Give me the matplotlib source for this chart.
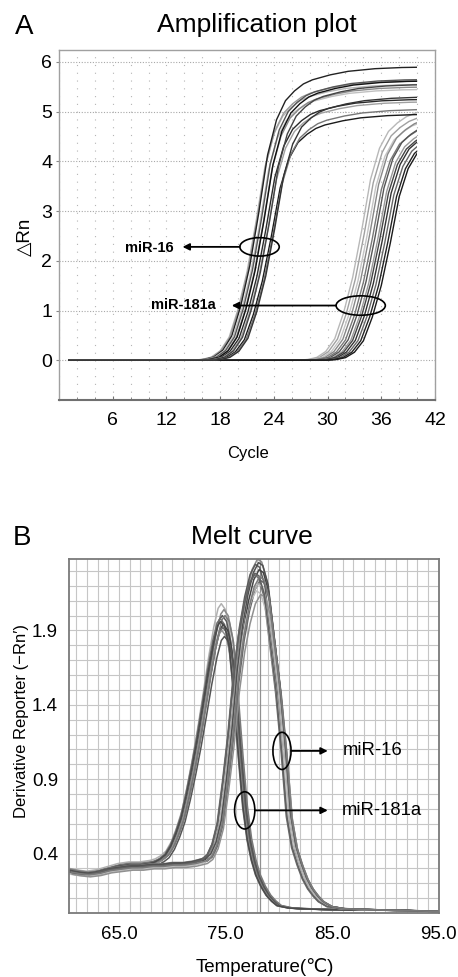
import numpy as np
import matplotlib
matplotlib.use('Agg')
import matplotlib.pyplot as plt
from matplotlib.patches import Ellipse, Rectangle
from matplotlib.ticker import MultipleLocator

plt.rcParams['font.family'] = ['Liberation Sans', 'DejaVu Sans', 'Noto Sans CJK SC']

# ---------------- Amplification plot data ----------------
# normalized amplification shape (relative cycle vs fraction of plateau)
amp_rel = [-40, -7, -6, -5, -4, -3, -2, -1, 0, 1, 2, 3, 4, 5, 6, 8, 10, 13, 16, 20, 40]
amp_shape = [0, 0, 0.003, 0.011, 0.034, 0.083, 0.185, 0.32, 0.5, 0.70, 0.82, 0.885,
             0.918, 0.942, 0.956, 0.973, 0.985, 0.994, 0.998, 1.0, 1.0]

mir16_mid = [22.0, 22.1, 22.3, 22.4, 22.6, 22.8, 22.9, 23.1, 23.3, 23.5, 23.7, 23.9, 24.1]
mir16_plateau = [5.55, 5.62, 5.9, 5.45, 5.65, 5.5, 5.62, 5.25, 5.2, 5.55, 4.95, 5.05, 5.3]
mir16_color = ['#b5b5b5', '#9a9a9a', '#222222', '#c0c0c0', '#555555', '#8a8a8a',
               '#111111', '#2a2a2a', '#a0a0a0', '#444444', '#1a1a1a', '#777777', '#333333']

mir181a_mid = [33.8, 34.1, 34.4, 34.7, 35.0, 35.3, 35.6, 35.8, 36.1, 36.4, 36.7, 37.0]
mir181a_plateau = [5.2, 5.1, 5.0, 5.05, 4.9, 4.95, 4.85, 4.8, 4.8, 4.75, 4.7, 4.7]
mir181a_color = ['#b8b8b8', '#a0a0a0', '#c4c4c4', '#888888', '#777777', '#555555',
                 '#999999', '#444444', '#333333', '#666666', '#222222', '#1a1a1a']

cycle_first, cycle_last = 1, 40
amp_xticks = [6, 12, 18, 24, 30, 36, 42]
amp_yticks = [0, 1, 2, 3, 4, 5, 6]

# ---------------- Melt curve data ----------------
melt_temp_181a = [60.3, 61, 62, 63, 64, 65, 66, 67, 68, 68.5, 69, 69.5, 70, 70.5, 71, 71.5,
                  72, 72.5, 73, 73.5, 74, 74.4, 74.7, 75.1, 75.5, 75.8, 76.1, 76.4, 76.8,
                  77.2, 77.6, 78, 78.5, 79, 79.5, 80, 81, 82, 84, 87, 90, 93, 95]
melt_val_181a = [0.29, 0.28, 0.27, 0.28, 0.30, 0.32, 0.33, 0.33, 0.34, 0.35, 0.37, 0.40,
                 0.46, 0.55, 0.66, 0.82, 1.0, 1.2, 1.42, 1.65, 1.85, 1.97, 2.0, 1.96,
                 1.82, 1.60, 1.32, 1.05, 0.72, 0.50, 0.36, 0.26, 0.18, 0.12, 0.08, 0.05,
                 0.035, 0.03, 0.025, 0.02, 0.02, 0.015, 0.01]

melt_temp_16 = [60.3, 61, 62, 63, 64, 65, 66, 67, 68, 69, 70, 71, 72, 72.5, 73, 73.5, 74,
                74.5, 75, 75.5, 76, 76.5, 77, 77.5, 78, 78.4, 78.9, 79.4, 80, 80.5, 81,
                81.5, 82, 82.5, 83, 83.5, 84, 84.8, 86, 88, 90, 93, 95]
melt_val_16 = [0.29, 0.28, 0.27, 0.28, 0.30, 0.31, 0.32, 0.32, 0.33, 0.33, 0.34, 0.34,
               0.35, 0.36, 0.37, 0.40, 0.48, 0.63, 0.92, 1.25, 1.65, 1.95, 2.16, 2.31,
               2.38, 2.36, 2.23, 1.92, 1.55, 1.15, 0.68, 0.46, 0.34, 0.24, 0.17, 0.12,
               0.08, 0.045, 0.03, 0.025, 0.02, 0.015, 0.01]

melt181a_scale = [1.04, 1.02, 1.0, 0.99, 0.97, 0.96, 0.95, 0.93, 1.0, 0.98]
melt181a_shift = [-0.1, 0.15, 0.0, -0.2, 0.1, 0.05, -0.05, 0.2, 0.25, -0.15]
melt181a_color = ['#b0b0b0', '#8a8a8a', '#5a5a5a', '#707070', '#444444', '#666666',
                  '#909090', '#555555', '#7a7a7a', '#4a4a4a']

melt16_scale = [1.0, 0.985, 0.97, 0.955, 0.94, 0.93, 0.91, 0.9, 0.99, 0.96, 0.95]
melt16_shift = [0.0, -0.2, 0.15, -0.3, 0.25, 0.05, -0.1, 0.3, 0.1, -0.25, 0.2]
melt16_color = ['#8a8a8a', '#5a5a5a', '#444444', '#707070', '#666666', '#b0b0b0',
                '#c0c0c0', '#909090', '#505050', '#606060', '#7a7a7a']

melt_xticks = [65, 75, 85, 95]
melt_yticks = [0.4, 0.9, 1.4, 1.9]

# ---------------- Figure ----------------
fig = plt.figure(figsize=(4.58, 9.77), dpi=100)

# ===== Panel A =====
axA = fig.add_axes([0.1288, 0.5906, 0.8210, 0.3582])
axA.set_xlim(0, 42)
axA.set_ylim(-0.8, 6.24)
axA.set_xticks(amp_xticks)
axA.xaxis.set_minor_locator(MultipleLocator(2))
axA.set_yticks(amp_yticks)
axA.grid(axis='x', which='both', linestyle=(0, (1, 6)), color='#b5b5b5', lw=0.8)
axA.grid(axis='y', which='major', linestyle=(0, (1, 1.5)), color='#a8a8a8', lw=0.8)
axA.set_axisbelow(True)

clip = Rectangle((cycle_first, -5), cycle_last - cycle_first, 20, transform=axA.transData)
rel = np.array(amp_rel)
shape = np.array(amp_shape)
for mid, pl, col in zip(mir181a_mid, mir181a_plateau, mir181a_color):
    ln, = axA.plot(rel + mid, shape * pl, color=col, lw=1.0)
    ln.set_clip_path(clip)
for mid, pl, col in zip(mir16_mid, mir16_plateau, mir16_color):
    ln, = axA.plot(rel + mid, shape * pl, color=col, lw=1.0)
    ln.set_clip_path(clip)

for sp in ['top', 'right', 'left']:
    axA.spines[sp].set_color('#a0a0a0')
    axA.spines[sp].set_linewidth(1.0)
axA.spines['bottom'].set_color('#707070')
axA.spines['bottom'].set_linewidth(1.5)
axA.tick_params(axis='y', length=2, color='#888888', labelsize=14, pad=3)
axA.tick_params(axis='x', which='major', length=3, direction='in', color='#707070',
                labelsize=14, pad=9)
axA.tick_params(axis='x', which='minor', length=2, direction='in', color='#707070')

# annotations A
axA.add_patch(Ellipse((22.4, 2.28), 4.4, 0.37, fill=False, ec='black', lw=1.2, zorder=5))
axA.annotate('', xy=(13.8, 2.28), xytext=(20.2, 2.28),
             arrowprops=dict(arrowstyle='-|>', color='black', lw=1.3, mutation_scale=10,
                             shrinkA=0, shrinkB=0), zorder=5)
axA.text(12.8, 2.26, 'miR-16', ha='right', va='center', fontsize=10.5, fontweight='bold')

axA.add_patch(Ellipse((33.7, 1.1), 5.5, 0.39, fill=False, ec='black', lw=1.2, zorder=5))
axA.annotate('', xy=(19.3, 1.1), xytext=(30.95, 1.1),
             arrowprops=dict(arrowstyle='-|>', color='black', lw=1.3, mutation_scale=10,
                             shrinkA=0, shrinkB=0), zorder=5)
axA.text(17.5, 1.12, 'miR-181a', ha='right', va='center', fontsize=10.5, fontweight='bold')

fig.text(15 / 458, 1 - 27 / 977, 'A', ha='left', va='center', fontsize=20)
fig.text(257 / 458, 1 - 25 / 977, 'Amplification plot', ha='center', va='center', fontsize=19)
fig.text(248 / 458, 1 - 453 / 977, 'Cycle', ha='center', va='center', fontsize=12)
fig.text(25 / 458, 1 - 237 / 977, '△Rn', ha='center', va='center', fontsize=13.5, rotation=90)

# ===== Panel B =====
axB = fig.add_axes([0.1507, 0.0655, 0.8079, 0.3623])
axB.set_xlim(60.3, 95.05)
axB.set_ylim(0, 2.38)
axB.set_xticks(melt_xticks)
axB.set_xticklabels([f'{v:.1f}' for v in melt_xticks])
axB.set_yticks(melt_yticks)
axB.set_yticklabels([f'{v:.1f}' for v in melt_yticks])
axB.xaxis.set_minor_locator(MultipleLocator(1))
axB.yaxis.set_minor_locator(MultipleLocator(0.1))
axB.grid(which='both', color='#c6c6c6', lw=0.8)
axB.set_axisbelow(True)
axB.axvline(78.2, color='#909090', lw=0.9, zorder=1)

t181 = np.array(melt_temp_181a)
v181 = np.array(melt_val_181a)
t16 = np.array(melt_temp_16)
v16 = np.array(melt_val_16)
for s, sh, col in zip(melt181a_scale, melt181a_shift, melt181a_color):
    axB.plot(t181 + sh, v181 * s, color=col, lw=1.1)
for s, sh, col in zip(melt16_scale, melt16_shift, melt16_color):
    axB.plot(t16 + sh, v16 * s, color=col, lw=1.1)

for sp in axB.spines.values():
    sp.set_color('#7a7a7a')
    sp.set_linewidth(1.3)
axB.tick_params(which='both', length=0, labelsize=13.5)
axB.tick_params(axis='x', pad=9)
axB.tick_params(axis='y', pad=8)

axB.add_patch(Ellipse((80.3, 1.09), 1.7, 0.25, fill=False, ec='black', lw=1.2, zorder=5))
axB.annotate('', xy=(84.6, 1.09), xytext=(81.15, 1.09),
             arrowprops=dict(arrowstyle='-|>', color='black', lw=1.3, mutation_scale=10,
                             shrinkA=0, shrinkB=0), zorder=5)
axB.text(86.0, 1.09, 'miR-16', ha='left', va='center', fontsize=13.3)

axB.add_patch(Ellipse((76.8, 0.69), 1.9, 0.25, fill=False, ec='black', lw=1.2, zorder=5))
axB.annotate('', xy=(84.6, 0.69), xytext=(77.75, 0.69),
             arrowprops=dict(arrowstyle='-|>', color='black', lw=1.3, mutation_scale=10,
                             shrinkA=0, shrinkB=0), zorder=5)
axB.text(85.9, 0.69, 'miR-181a', ha='left', va='center', fontsize=13.3)

fig.text(13 / 458, 1 - 538 / 977, 'B', ha='left', va='center', fontsize=20)
fig.text(252 / 458, 1 - 537 / 977, 'Melt curve', ha='center', va='center', fontsize=19)
fig.text(265 / 458, 1 - 967 / 977, 'Temperature(℃)', ha='center', va='center', fontsize=13.5)
fig.text(22 / 458, 1 - 721 / 977, 'Derivative Reporter (−Rn′)', ha='center', va='center',
         fontsize=12, rotation=90)

fig.savefig('out.png', dpi=100, facecolor='white')
